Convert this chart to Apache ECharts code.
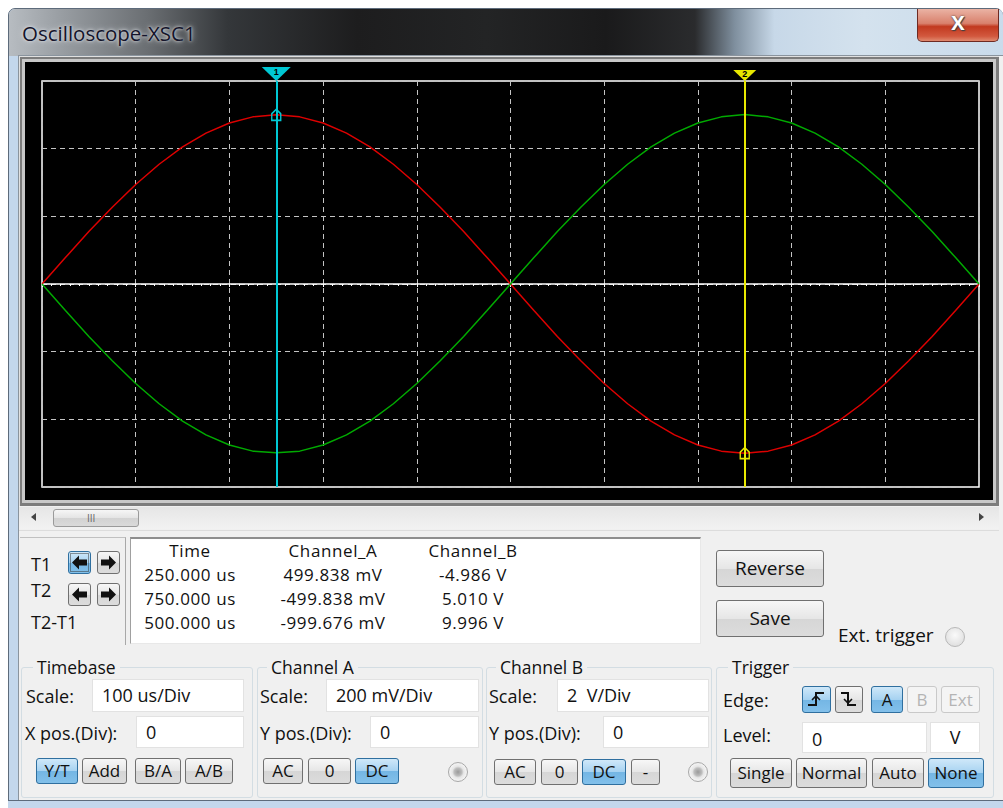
<!DOCTYPE html>
<html><head><meta charset="utf-8">
<script src="https://cdn.jsdelivr.net/npm/echarts@6/dist/echarts.min.js"></script>
<style>
*{box-sizing:border-box}
body{margin:0;width:1003px;height:808px;overflow:hidden;background:#fff;font-family:'Open Sans',sans-serif;position:relative;color:#111}
.a{position:absolute}
.t{position:absolute;font-size:18px;white-space:nowrap;line-height:20px;height:20px}
.c{text-align:center}
.btn{position:absolute;border:1px solid #707070;border-radius:3px;background:linear-gradient(#f7f7f7,#e6e6e6 50%,#d6d6d6 51%,#dcdcdc);font-size:17px;text-align:center;white-space:nowrap}
.sel{background:linear-gradient(#cfe8f9,#a6d2f1 50%,#74b6e4 51%,#82c0ea);border-color:#2f6f9f}
.dis{color:#b4b4b4;border-color:#c9c9c9;background:#f4f4f4}
.inp{position:absolute;background:#fff;border:1px solid #e2e2e2;font-size:18px;line-height:28px;padding-left:9px;white-space:nowrap}
.grp{position:absolute;border:1px solid #d3dde3;border-radius:3px}
.gt{position:absolute;top:-12px;background:#f0f0f0;padding:0 4px;font-size:17.5px;line-height:22px;white-space:nowrap}
.radio{position:absolute;width:20px;height:20px;border-radius:50%;border:1px solid #b8b8b8;background:radial-gradient(circle at 50% 40%,#fafafa,#d8d8d8)}
.led{position:absolute;width:20px;height:20px;border-radius:50%;border:1px solid #a8a8a8;background:radial-gradient(circle,#9a9a9a 0,#bcbcbc 30%,#e6e6e6 45%,#f4f4f4 70%,#d0d0d0 100%)}
.ro{position:absolute;font-size:17px;letter-spacing:0.6px;white-space:nowrap;line-height:20px;height:20px;text-align:center;width:160px}
</style></head>
<body>
<!-- window frame -->
<div class="a" style="left:8px;top:8px;width:995px;height:800px;background:#c3d7ec;border:1px solid #5d6b7b;border-radius:7px 7px 0 0"></div>
<div class="a" style="left:9px;top:9px;width:994px;height:47px;border-radius:6px 6px 0 0;background:linear-gradient(90deg,#b7bcc1 0,#9a9fa4 5%,#6a6e72 14%,#34373a 22%,#1d1d1e 35%,#232425 48%,#1a1a1b 60%,#2a2b2d 69%,#7f8f9e 73%,#c7d8e8 77%,#d4e2ee 86%,#c9dbeb 100%)"></div>
<div class="t" style="left:22px;top:20px;font-size:20.5px;line-height:26px;height:26px;color:#14142a;text-shadow:0 0 6px #d8dde2,0 0 3px #e4e8ec">Oscilloscope-XSC1</div>
<div class="a" style="left:917px;top:9px;width:82px;height:33px;border:1px solid #6e2a22;border-top:none;border-radius:0 0 5px 5px;background:linear-gradient(#eab3a4,#d9806c 45%,#c2391f 55%,#d2583e 85%,#e08a6f)"></div>
<div class="t c" style="left:917px;top:13px;width:82px;font-size:20px;font-weight:bold;color:#fff;text-shadow:0 0 2px #333,1px 1px 1px #444">X</div>
<!-- client area -->
<div class="a" style="left:18px;top:55px;width:985px;height:745px;background:#f0f0f0;border-left:1px solid #8a949e;border-top:1px solid #8a949e"></div>
<div class="a" style="left:8px;top:800px;width:995px;height:8px;background:#c3d7ec;border-top:1px solid #5d6b7b"></div>
<!-- scope frame -->
<div class="a" style="left:19px;top:56px;width:980px;height:450px;background:#7c7c7c;border-top:1px solid #e0e0e0;border-left:1px solid #e0e0e0"></div>
<div class="a" style="left:22px;top:59px;width:974px;height:444px;background:#c8c8c8"></div>
<div id="chart" class="a" style="left:25px;top:62px;width:968px;height:438px;background:#000"></div>
<!-- scrollbar -->
<div class="a" style="left:19px;top:507px;width:980px;height:22px;background:linear-gradient(#e6e6e6,#f2f2f2)"></div>
<div class="a" style="left:31px;top:513px;width:0;height:0;border-top:4px solid transparent;border-bottom:4px solid transparent;border-right:5px solid #444"></div>
<div class="a" style="left:979px;top:513px;width:0;height:0;border-top:4px solid transparent;border-bottom:4px solid transparent;border-left:5px solid #444"></div>
<div class="a" style="left:53px;top:509px;width:86px;height:18px;border:1px solid #9a9a9a;border-radius:3px;background:linear-gradient(#f6f6f6,#e4e4e4 50%,#d2d2d2 51%,#dadada)"></div>
<div class="t" style="left:87px;top:508px;font-size:10px;color:#666;letter-spacing:0px">III</div>
<div class="a" style="left:19px;top:530px;width:980px;height:1px;background:#dcdcdc"></div>
<!-- cursor panel -->
<div class="a" style="left:20px;top:537px;width:106px;height:108px;border-top:1px solid #c0c0c0;border-right:1px solid #a8a8a8"></div>
<div class="t" style="left:31px;top:554px;font-size:18px">T1</div>
<div class="t" style="left:31px;top:580px;font-size:18px">T2</div>
<div class="t" style="left:31px;top:612px;font-size:18px">T2-T1</div>
<div class="btn sel" style="left:68px;top:551px;width:23px;height:23px"><svg width="21" height="21" style="position:absolute;left:0;top:0"><rect x="1.5" y="1.5" width="18" height="18" fill="none" stroke="#333" stroke-dasharray="1,1"/><path d="M3,10.5 L10,3.5 L10,7.5 L18,7.5 L18,13.5 L10,13.5 L10,17.5 Z" fill="#111"/></svg></div>
<div class="btn" style="left:97px;top:551px;width:23px;height:23px"><svg width="21" height="21" style="position:absolute;left:0;top:0"><path d="M18,10.5 L11,3.5 L11,7.5 L3,7.5 L3,13.5 L11,13.5 L11,17.5 Z" fill="#111"/></svg></div>
<div class="btn" style="left:68px;top:583px;width:23px;height:23px"><svg width="21" height="21" style="position:absolute;left:0;top:0"><path d="M3,10.5 L10,3.5 L10,7.5 L18,7.5 L18,13.5 L10,13.5 L10,17.5 Z" fill="#111"/></svg></div>
<div class="btn" style="left:97px;top:583px;width:23px;height:23px"><svg width="21" height="21" style="position:absolute;left:0;top:0"><path d="M18,10.5 L11,3.5 L11,7.5 L3,7.5 L3,13.5 L11,13.5 L11,17.5 Z" fill="#111"/></svg></div>
<div class="a" style="left:130px;top:537px;width:571px;height:107px;background:#fff;border-top:2px solid #8e8e8e;border-left:1px solid #a0a0a0;border-right:1px solid #e8e8e8;border-bottom:1px solid #e8e8e8"></div>
<div id="readout"></div>
<div class="btn" style="left:716px;top:550px;width:108px;height:37px;line-height:34px;font-size:19px">Reverse</div>
<div class="btn" style="left:716px;top:600px;width:108px;height:37px;line-height:34px;font-size:19px">Save</div>
<div class="t" style="left:838px;top:625px;font-size:19px">Ext. trigger</div>
<div class="radio" style="left:945px;top:627px"></div>
<!-- Timebase -->
<div class="grp" style="left:21px;top:667px;width:232px;height:131px"><div class="gt" style="left:11px">Timebase</div></div>
<div class="t" style="left:26px;top:686px">Scale:</div>
<div class="inp" style="left:92px;top:679px;width:152px;height:33px;line-height:31px">100 us/Div</div>
<div class="t" style="left:25px;top:723px">X pos.(Div):</div>
<div class="inp" style="left:136px;top:716px;width:108px;height:32px;line-height:30px">0</div>
<div class="btn sel" style="left:36px;top:758px;width:42px;height:26px;line-height:24px">Y/T</div>
<div class="btn" style="left:82px;top:758px;width:45px;height:26px;line-height:24px">Add</div>
<div class="btn" style="left:135px;top:758px;width:46px;height:26px;line-height:24px">B/A</div>
<div class="btn" style="left:185px;top:758px;width:48px;height:26px;line-height:24px">A/B</div>
<!-- Channel A -->
<div class="grp" style="left:257px;top:667px;width:226px;height:131px"><div class="gt" style="left:9px">Channel A</div></div>
<div class="t" style="left:260px;top:686px">Scale:</div>
<div class="inp" style="left:326px;top:679px;width:153px;height:33px;line-height:31px">200 mV/Div</div>
<div class="t" style="left:260px;top:723px">Y pos.(Div):</div>
<div class="inp" style="left:370px;top:716px;width:109px;height:32px;line-height:30px">0</div>
<div class="btn" style="left:263px;top:758px;width:40px;height:26px;line-height:24px">AC</div>
<div class="btn" style="left:308px;top:758px;width:43px;height:26px;line-height:24px">0</div>
<div class="btn sel" style="left:355px;top:758px;width:44px;height:26px;line-height:24px">DC</div>
<div class="led" style="left:448px;top:762px"></div>
<!-- Channel B -->
<div class="grp" style="left:486px;top:667px;width:226px;height:131px"><div class="gt" style="left:9px">Channel B</div></div>
<div class="t" style="left:489px;top:686px">Scale:</div>
<div class="inp" style="left:557px;top:679px;width:152px;height:33px;line-height:31px">2 &nbsp;V/Div</div>
<div class="t" style="left:489px;top:723px">Y pos.(Div):</div>
<div class="inp" style="left:603px;top:716px;width:106px;height:32px;line-height:30px">0</div>
<div class="btn" style="left:494px;top:759px;width:42px;height:26px;line-height:24px">AC</div>
<div class="btn" style="left:541px;top:759px;width:37px;height:26px;line-height:24px">0</div>
<div class="btn sel" style="left:582px;top:759px;width:44px;height:26px;line-height:24px">DC</div>
<div class="btn" style="left:631px;top:759px;width:29px;height:26px;line-height:24px">-</div>
<div class="led" style="left:688px;top:762px"></div>
<!-- Trigger -->
<div class="grp" style="left:716px;top:667px;width:278px;height:131px"><div class="gt" style="left:11px">Trigger</div></div>
<div class="t" style="left:723px;top:690px">Edge:</div>
<div class="btn sel" style="left:802px;top:686px;width:29px;height:27px"><svg width="27" height="25" style="position:absolute;left:0;top:0"><path d="M5,18 H13 V6 H21" fill="none" stroke="#111" stroke-width="2"/><path d="M9,13 L13,9 L17,13" fill="none" stroke="#111" stroke-width="1.6"/></svg></div>
<div class="btn" style="left:835px;top:686px;width:28px;height:27px"><svg width="26" height="25" style="position:absolute;left:0;top:0"><path d="M5,6 H12 V18 H20" fill="none" stroke="#111" stroke-width="2"/><path d="M8,12 L12,16 L16,12" fill="none" stroke="#111" stroke-width="1.6"/></svg></div>
<div class="btn sel" style="left:871px;top:686px;width:32px;height:27px;line-height:25px">A</div>
<div class="btn dis" style="left:907px;top:686px;width:30px;height:27px;line-height:25px">B</div>
<div class="btn dis" style="left:941px;top:686px;width:39px;height:27px;line-height:25px">Ext</div>
<div class="t" style="left:723px;top:725px">Level:</div>
<div class="inp" style="left:802px;top:722px;width:125px;height:31px;line-height:32px">0</div>
<div class="inp c" style="left:930px;top:722px;width:50px;height:31px;line-height:29px;padding:0">V</div>
<div class="btn" style="left:730px;top:758px;width:62px;height:30px;line-height:28px">Single</div>
<div class="btn" style="left:796px;top:758px;width:71px;height:30px;line-height:28px">Normal</div>
<div class="btn" style="left:872px;top:758px;width:52px;height:30px;line-height:28px">Auto</div>
<div class="btn sel" style="left:928px;top:758px;width:56px;height:30px;line-height:28px">None</div>

<script>
// ---- Data ----
const timeUs = [0,25,50,75,100,125,150,175,200,225,250,275,300,325,350,375,400,425,450,475,500,
  525,550,575,600,625,650,675,700,725,750,775,800,825,850,875,900,925,950,975,1000];
const channelA_mV = [0,78,155,227,294,354,405,446,476,494,500,494,476,446,405,354,294,227,155,78,0,
  -78,-155,-227,-294,-354,-405,-446,-476,-494,-500,-494,-476,-446,-405,-354,-294,-227,-155,-78,0];
const channelB_V = [0,-0.78,-1.55,-2.27,-2.94,-3.54,-4.05,-4.46,-4.76,-4.94,-4.99,-4.94,-4.76,-4.46,-4.05,-3.54,-2.94,-2.27,-1.55,-0.78,0,
  0.78,1.55,2.27,2.94,3.54,4.05,4.46,4.76,4.94,5.01,4.94,4.76,4.46,4.05,3.54,2.94,2.27,1.55,0.78,0];
const cursorNames = ['1','2'];
const cursorTimesUs = [250, 750];
const cursorMarkA_mV = [500, -500];
const timeRangeUs = [0, 1000];
const timeDivUs = 100;
const chARangeMv = [-600, 600];
const chADivMv = 200;
const chBRangeV = [-6, 6];
const chBDivV = 2;
// readout table
const readoutHeaders = ['Time','Channel_A','Channel_B'];
const readoutTime = ['250.000 us','750.000 us','500.000 us'];
const readoutChA = ['499.838 mV','-499.838 mV','-999.676 mV'];
const readoutChB = ['-4.986 V','5.010 V','9.996 V'];

// readout text
(function(){
  const host = document.getElementById('readout');
  const centers = [190, 333, 473];
  const rowsY = [541, 565, 589, 613];
  const cols = [readoutTime, readoutChA, readoutChB];
  let html = '';
  readoutHeaders.forEach((h,i)=>{
    html += `<div class="ro" style="left:${centers[i]-80}px;top:${rowsY[0]}px">${h}</div>`;
    cols[i].forEach((v,r)=>{
      html += `<div class="ro" style="left:${centers[i]-80}px;top:${rowsY[r+1]}px">${v}</div>`;
    });
  });
  host.innerHTML = html;
})();

const cursorColors = ['#00c8d4', '#e8e800'];
const grid = {left:17, top:19, width:937, height:406};
const chart = echarts.init(document.getElementById('chart'), null, {renderer:'svg'});
const gridLine = {show:true, lineStyle:{color:'#c4c4c4', width:1, type:[5,4]}};
chart.setOption({
  animation:false,
  backgroundColor:'#000',
  grid:Object.assign({show:true, borderColor:'#ffffff', borderWidth:1.5, backgroundColor:'#000'}, grid),
  xAxis:{type:'value', min:timeRangeUs[0], max:timeRangeUs[1], interval:timeDivUs,
    axisLabel:{show:false},
    axisLine:{show:true, onZero:true, lineStyle:{color:'#ffffff', width:1.5}},
    axisTick:{show:true, length:3, lineStyle:{color:'#ffffff', width:1}},
    minorTick:{show:true, splitNumber:10, length:2, lineStyle:{color:'#ffffff', width:1}},
    splitLine:gridLine},
  yAxis:[
    {type:'value', min:chARangeMv[0], max:chARangeMv[1], interval:chADivMv,
     axisLabel:{show:false}, axisLine:{show:false}, axisTick:{show:false}, splitLine:gridLine},
    {type:'value', min:chBRangeV[0], max:chBRangeV[1], interval:chBDivV, show:false,
     axisLabel:{show:false}, axisLine:{show:false}, axisTick:{show:false}, splitLine:{show:false}}
  ],
  series:[
    {name:'Channel A', type:'line', yAxisIndex:0, data:timeUs.map((t,i)=>[t, channelA_mV[i]]),
     symbol:'none', lineStyle:{color:'#dd0000', width:1.5}, z:3},
    {name:'Channel B', type:'line', yAxisIndex:1, data:timeUs.map((t,i)=>[t, channelB_V[i]]),
     symbol:'none', lineStyle:{color:'#00aa00', width:1.5}, z:3},
    {name:'Cursors', type:'line', yAxisIndex:0, data:[[cursorTimesUs[0],0]], symbol:'none',
     lineStyle:{opacity:0}, z:5,
     markLine:{silent:true, symbol:['none','none'], label:{show:false},
       data:cursorTimesUs.map((t,i)=>({xAxis:t, lineStyle:{color:cursorColors[i], width:2, type:'solid'}}))},
     markPoint:{silent:true, data:[
       ...cursorTimesUs.map((t,i)=>({coord:[t, chARangeMv[1]], symbol:'triangle', symbolRotate:180,
          symbolSize: i===0 ? [29,14] : [23,11], symbolOffset:[0, i===0 ? -7 : -5.5],
          itemStyle:{color:cursorColors[i]},
          label:{show:true, formatter:cursorNames[i], color:'#000', fontSize:9, fontWeight:'bold',
                 position:'inside', offset:[0, -2]}})),
       ...cursorTimesUs.map((t,i)=>({coord:[t, cursorMarkA_mV[i]], symbol:'path://M0,4 L4,0 L8,4 L8,10 L0,10 Z',
          symbolSize:[9,11], itemStyle:{color:'rgba(0,0,0,0)', borderColor:cursorColors[i], borderWidth:1.5},
          label:{show:false}}))
     ]}}
  ]
});
</script>
</body></html>
